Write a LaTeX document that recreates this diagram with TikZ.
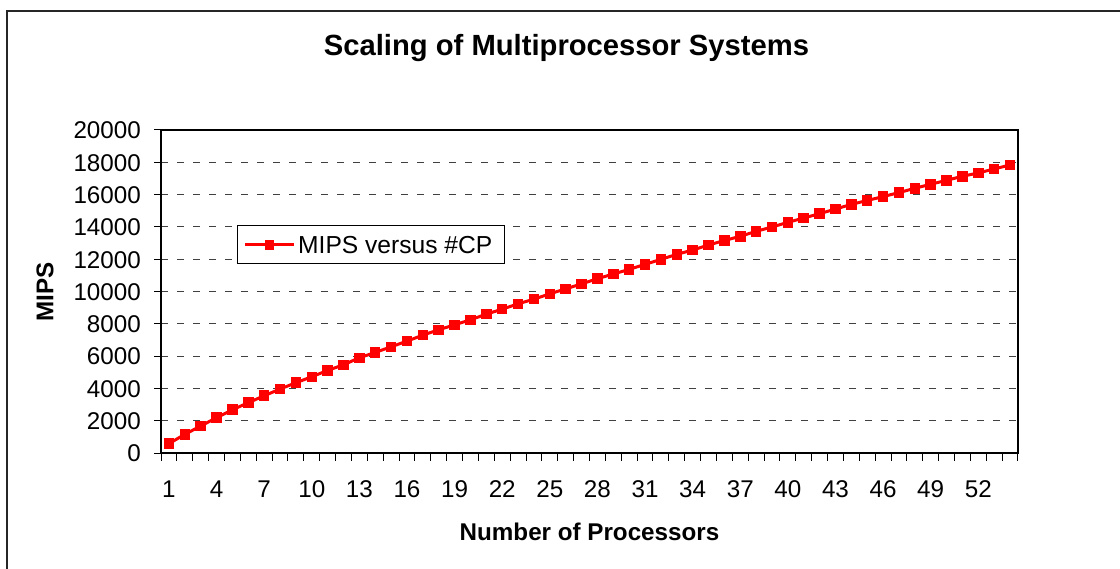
\documentclass[tikz,border=0pt]{standalone}
\usepackage{fontspec}
\setmainfont{Liberation Sans}
\begin{document}
\begin{tikzpicture}[x=1pt,y=-1pt,
  grid/.style={draw=black!75,line width=1,dash pattern=on 7pt off 9pt},
  frame/.style={draw=black,line width=2},
  tick/.style={draw=black,line width=1},
  dataline/.style={draw=red,line width=3,line join=round},
  marker/.style={rectangle,fill=red,draw=none,minimum size=10.5pt,inner sep=0pt},
  ticklabel/.style={font=\fontsize{24.2}{29}\selectfont,inner sep=0pt},
  axistitle/.style={font=\bfseries\fontsize{24.2}{29}\selectfont,inner sep=0pt},
  titlestyle/.style={font=\bfseries\fontsize{29.2}{35}\selectfont,inner sep=0pt},
  legendbox/.style={draw=black,line width=1,fill=white},
  legendtext/.style={font=\fontsize{24.6}{29}\selectfont,inner sep=0pt,anchor=west}]
\useasboundingbox (0,0) rectangle (1120,569);
\clip (0,0) rectangle (1120,569);
\fill[white] (0,0) rectangle (1120,569);
% outer chart frame
\draw[line width=1.5,draw=black!85] (7,575) -- (7,11) -- (1125,11);
% title
\node[titlestyle] (title) at (566.5,48) {Scaling of Multiprocessor Systems};
% gridlines
\foreach \k in {1,...,9}{
  \draw[grid] (161,{453-\k*32.3}) -- (1018,{453-\k*32.3});
}
% y ticks and labels
\foreach \k/\lab in {0/0,1/2000,2/4000,3/6000,4/8000,5/10000,6/12000,7/14000,8/16000,9/18000,10/20000}{
  \draw[tick] (154,{453-\k*32.3}) -- (161,{453-\k*32.3});
  \node[ticklabel,anchor=east] (yl\k) at (141,{453-\k*32.3+0.5}) {\lab};
}
% x ticks
\foreach \j in {0,...,54}{
  \draw[tick] ({161+\j*15.87},453) -- ({161+\j*15.87},461);
}
% x labels
\foreach \i in {1,4,...,52}{
  \node[ticklabel,anchor=base] (xl\i) at ({161+(\i-0.5)*15.87},497.5) {\i};
}
% plot frame
\draw[frame] (161,130) rectangle (1018,453);
% data (values in hundreds of MIPS)
\foreach \v [count=\i] in {5.79,11.55,16.70,21.85,26.80,31.13,35.46,39.59,43.50,47.21,51.13,54.63,58.97,62.27,65.77,69.27,72.98,76.29,79.38,82.47,85.98,89.07,92.37,95.26,98.56,101.65,104.70,107.93,110.81,113.70,116.80,119.90,123.00,125.68,128.77,131.58,134.17,137.26,139.94,142.82,145.50,148.18,151.06,153.94,156.36,158.76,161.24,163.92,166.39,168.86,171.34,173.40,175.88,178.35}{
  \coordinate (p\i) at ({161+(\i-0.5)*15.87},{453-\v*1.615});
}
\draw[dataline] (p1) \foreach \i in {2,...,54}{ -- (p\i)};
\foreach \i in {1,...,54}{
  \node[marker] (m\i) at (p\i) {};
}
% axis titles
\node[axistitle,anchor=base] (xtitle) at (589.5,540) {Number of Processors};
\node[axistitle,rotate=90] (ytitle) at (45,292) {MIPS};
% legend
\draw[legendbox] (237,226) rectangle (504,264);
\coordinate (la) at (245,245);
\coordinate (lb) at (294,245);
\draw[red,line width=3] (la) -- (lb);
\node[marker,minimum size=9.5pt] (lm) at (269.5,245) {};
\node[legendtext] (lt) at (298,245) {MIPS versus \#CP};
\end{tikzpicture}
\end{document}
